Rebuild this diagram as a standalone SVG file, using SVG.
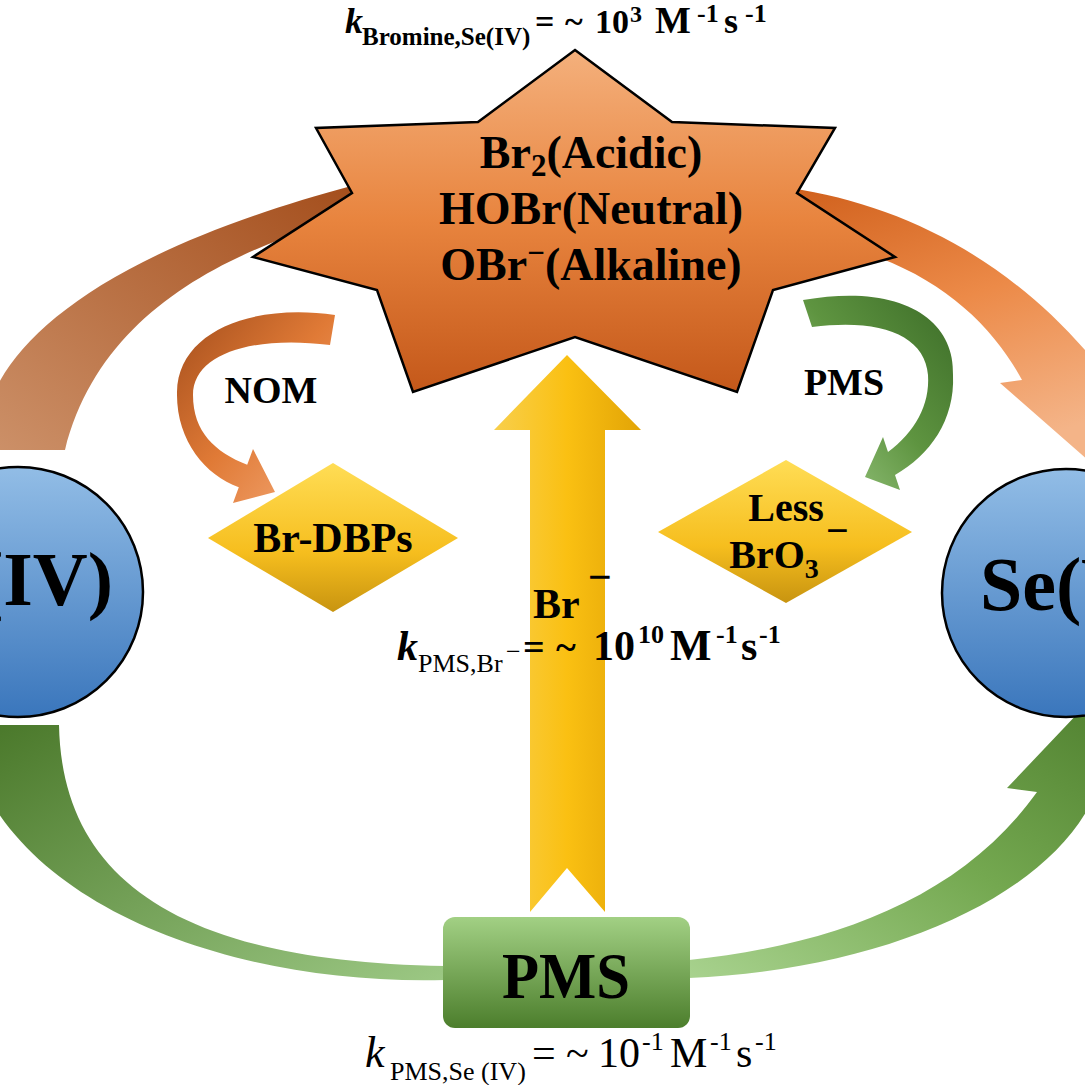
<svg xmlns="http://www.w3.org/2000/svg" width="1085" height="1085" viewBox="0 0 1085 1085">
<defs>
<linearGradient id="gStar" x1="0" y1="0" x2="0" y2="1"><stop offset="0" stop-color="#F4B07C"/><stop offset="0.5" stop-color="#E8843E"/><stop offset="1" stop-color="#C4581A"/></linearGradient>
<linearGradient id="gBlue" x1="0" y1="0" x2="0" y2="1"><stop offset="0" stop-color="#92BDE6"/><stop offset="1" stop-color="#3A76BC"/></linearGradient>
<linearGradient id="gDia" x1="0" y1="0" x2="0" y2="1"><stop offset="0" stop-color="#FFDD55"/><stop offset="0.6" stop-color="#F6BE1E"/><stop offset="1" stop-color="#C89410"/></linearGradient>
<linearGradient id="gYel" x1="0" y1="0" x2="1" y2="0"><stop offset="0" stop-color="#F8CF4C"/><stop offset="0.5" stop-color="#FAC012"/><stop offset="1" stop-color="#E2A406"/></linearGradient>
<linearGradient id="gPMS" x1="0" y1="0" x2="0" y2="1"><stop offset="0" stop-color="#A2D084"/><stop offset="1" stop-color="#4C7E2C"/></linearGradient>
<linearGradient id="gOrL" x1="1" y1="0" x2="0" y2="1"><stop offset="0" stop-color="#A44E1C"/><stop offset="1" stop-color="#CC9068"/></linearGradient>
<linearGradient id="gOrR" x1="0" y1="0" x2="0.4" y2="1"><stop offset="0" stop-color="#D0601C"/><stop offset="0.5" stop-color="#EC8A48"/><stop offset="1" stop-color="#F4B488"/></linearGradient>
<linearGradient id="gGrL" x1="0" y1="0" x2="1" y2="1"><stop offset="0" stop-color="#4A782A"/><stop offset="1" stop-color="#9CC884"/></linearGradient>
<linearGradient id="gGrR" x1="0" y1="1" x2="1" y2="0"><stop offset="0" stop-color="#A8D28E"/><stop offset="0.5" stop-color="#74A850"/><stop offset="1" stop-color="#4C7C2C"/></linearGradient>
<linearGradient id="gNOM" x1="0" y1="0" x2="1" y2="1"><stop offset="0" stop-color="#A44E1C"/><stop offset="0.5" stop-color="#E07A36"/><stop offset="1" stop-color="#F4AA78"/></linearGradient>
<linearGradient id="gPMSa" x1="1" y1="0" x2="0" y2="1"><stop offset="0" stop-color="#3C6C28"/><stop offset="0.5" stop-color="#5E9440"/><stop offset="1" stop-color="#A0CC88"/></linearGradient>
</defs>
<style>
text{font-family:"Liberation Serif","Times New Roman",serif;fill:#000;}
.b{font-weight:bold;}
.i{font-style:italic;}
.node{stroke:#000;stroke-width:2.5;}
</style>
<rect width="1085" height="1085" fill="#fff"/>

<g id="connectors">
  <path id="arc-top-left" d="M -5,450 L -5,390 C 30,320 130,245 355,185 L 355,215 C 230,250 100,310 65,450 Z" fill="url(#gOrL)"/>
  <path id="arc-top-right" d="M 790,188 C 905,205 1015,262 1100,368 L 1135,392 L 1105,475 L 1000,383 L 1022,380 C 995,330 950,285 880,258 Z" fill="url(#gOrR)"/>
  <path id="arc-bottom-left" d="M -10,725 L 59,725 C 62,880 180,962 445,966 L 445,980 C 250,985 60,920 -10,800 Z" fill="url(#gGrL)"/>
  <path id="arc-bottom-right" d="M 689,960 C 830,945 960,900 1037,792 L 1007,788 L 1100,690 L 1140,820 L 1090,805 C 1040,900 880,970 689,978 Z" fill="url(#gGrR)"/>
  <path id="arrow-nom" d="M 335,315 C 255,303 178,330 177,392 C 176,440 205,475 238.8,487.2 L 233,503 L 275,492 L 253,449 L 247.2,464.8 C 215,452 193,432 193,395 C 193,355 250,335 330,345 Z" fill="url(#gNOM)"/>
  <path id="arrow-pms" d="M 803,300 C 900,283 955,318 953,375 C 955,420 930,455 895,475 L 900,490 L 865,477 L 883,437 L 888,452 C 915,432 930,405 928,375 C 925,335 880,318 812,327 Z" fill="url(#gPMSa)"/>
  <polygon id="arrow-br" points="567,355 641,430 605,430 605,912 567,868 530,912 530,430 494,430" fill="url(#gYel)"/>
</g>

<g id="node-se4">
  <circle class="node" cx="18" cy="592" r="125" fill="url(#gBlue)"/>
  <text class="b" x="113" y="605" font-size="76" text-anchor="end">Se(IV)</text>
</g>
<g id="node-se6">
  <circle class="node" cx="1066" cy="593" r="124" fill="url(#gBlue)"/>
  <text class="b" x="980" y="610" font-size="76">Se(VI)</text>
</g>

<g id="node-bromine">
  <polygon class="node" points="575,50 672,122 835,128 797,193 895,257 773,290 737,392 575,337 413,392 377,290 253,257 352,193 316,128 478,122" fill="url(#gStar)" stroke-linejoin="miter"/>
  <text class="b" x="591" y="168" font-size="46" text-anchor="middle">Br<tspan font-size="31" dy="8">2</tspan><tspan dy="-8">(Acidic)</tspan></text>
  <text class="b" x="591" y="224" font-size="46" text-anchor="middle">HOBr(Neutral)</text>
  <text class="b" x="591" y="280" font-size="46" text-anchor="middle">OBr<tspan font-size="31" dy="-17">−</tspan><tspan dy="17">(Alkaline)</tspan></text>
</g>

<g id="node-brdbps">
  <polygon points="208,538 333,463 458,538 333,612" fill="url(#gDia)"/>
  <text class="b" x="333" y="552" font-size="42" text-anchor="middle">Br-DBPs</text>
</g>
<g id="node-bro3">
  <polygon points="658,532 786,460 912,532 786,603" fill="url(#gDia)"/>
  <text class="b" x="786" y="521" font-size="40" text-anchor="middle">Less</text>
  <text class="b" x="774" y="568" font-size="40" text-anchor="middle">BrO<tspan font-size="28" dy="10">3</tspan></text>
  <text class="b" x="826" y="544" font-size="40">−</text>
</g>

<g id="node-pms">
  <rect x="443" y="917" width="247" height="111" rx="12" fill="url(#gPMS)"/>
  <text class="b" x="566" y="998" font-size="66" text-anchor="middle" textLength="128" lengthAdjust="spacingAndGlyphs">PMS</text>
</g>

<g id="labels">
  <text class="b" x="271" y="403" font-size="38" text-anchor="middle">NOM</text>
  <text class="b" x="844" y="395" font-size="38" text-anchor="middle">PMS</text>
  <text class="b" x="533" y="618" font-size="42">Br</text>
  <text class="b" x="588" y="591" font-size="42">−</text>

  <text class="b">
    <tspan class="i" x="345" y="33" font-size="36">k</tspan><tspan x="362" y="45" font-size="25">Bromine,Se(IV)</tspan><tspan x="535" y="33" font-size="34">=</tspan><tspan x="565" y="33" font-size="34">~</tspan><tspan x="595" y="33" font-size="34">10</tspan><tspan x="630" y="22" font-size="24">3</tspan><tspan x="655" y="33" font-size="38">M</tspan><tspan x="697" y="22" font-size="26">-1</tspan><tspan x="724" y="33" font-size="36">s</tspan><tspan x="745" y="22" font-size="26">-1</tspan>
  </text>

  <text class="b">
    <tspan class="i" x="397" y="660" font-size="42">k</tspan><tspan x="418" y="672" font-size="26" font-weight="normal">PMS,Br</tspan><tspan x="506" y="660" font-size="26" font-weight="normal">−</tspan><tspan x="523" y="660" font-size="38">=</tspan><tspan x="556" y="660" font-size="38">~</tspan><tspan x="593" y="660" font-size="42">10</tspan><tspan x="638" y="643" font-size="26">10</tspan><tspan x="670" y="660" font-size="44">M</tspan><tspan x="716" y="643" font-size="26">-1</tspan><tspan x="741" y="660" font-size="42">s</tspan><tspan x="759" y="643" font-size="26">-1</tspan>
  </text>

  <text font-size="42">
    <tspan class="i" x="365" y="1067" font-size="44">k</tspan><tspan x="390" y="1080" font-size="26">PMS,Se (IV)</tspan><tspan x="532" y="1067">=</tspan><tspan x="566" y="1067">~</tspan><tspan x="598" y="1067">10</tspan><tspan x="642" y="1050" font-size="26">-1</tspan><tspan x="670" y="1067">M</tspan><tspan x="710" y="1050" font-size="26">-1</tspan><tspan x="736" y="1067">s</tspan><tspan x="755" y="1050" font-size="26">-1</tspan>
  </text>
</g>
</svg>
